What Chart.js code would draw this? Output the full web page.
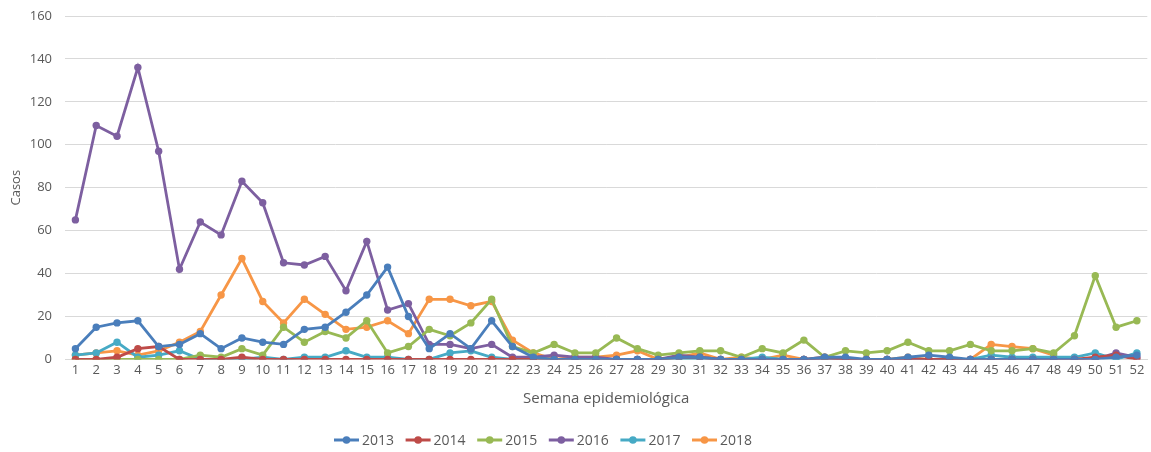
<!DOCTYPE html>
<html>
<head>
<meta charset="utf-8">
<script src="https://cdn.jsdelivr.net/npm/chart.js@4"></script>
<style>
html,body{margin:0;padding:0;background:#fff;}
#wrap{width:1151px;height:452px;}
</style>
</head>
<body>
<div id="wrap"><canvas id="c" width="1151" height="452"></canvas></div>
<script>
const weeks = Array.from({length:52},(_,i)=>String(i+1));
const seriesNames = ['2013','2014','2015','2016','2017','2018'];
const colors = ['#4a7ebb','#be4b48','#98b954','#7d5fa0','#46aac5','#f79646'];
const yTicks = [0,20,40,60,80,100,120,140,160];

const s2013 = [5,15,17,18,6,7,12,5,10,8,7,14,15,22,30,43,20,5,12,5,18,6,1,0,0,0,0,0,0,1,1,0,0,0,0,0,1,1,0,0,1,2,1,0,0,0,0,0,0,0,1,2];
const s2014 = [0,0,1,5,6,0,0,0,1,0,0,0,0,0,0,0,0,0,0,0,0,0,0,0,0,0,0,0,0,1,1,0,0,0,0,0,1,0,0,0,0,0,0,0,0,0,0,0,0,1,2,0];
const s2015 = [0,0,0,0,0,0,2,1,5,2,15,8,13,10,18,3,6,14,11,17,28,6,3,7,3,3,10,5,2,3,4,4,1,5,3,9,1,4,3,4,8,4,4,7,4,4,5,3,11,39,15,18];
const s2016 = [65,109,104,136,97,42,64,58,83,73,45,44,48,32,55,23,26,7,7,5,7,1,1,2,1,1,0,0,0,2,1,0,0,0,0,0,0,0,0,0,0,0,0,0,0,0,0,0,0,0,3,1];
const s2017 = [2,3,8,1,2,4,0,0,0,1,0,1,1,4,1,1,0,0,3,4,1,0,0,0,0,0,0,0,0,0,0,0,0,1,0,0,0,0,0,0,0,0,0,0,2,1,1,1,1,3,0,3];
const s2018 = [2,3,4,2,4,8,13,30,47,27,17,28,21,14,15,18,12,28,28,25,27,9,3,0,1,1,2,4,0,1,3,0,1,0,2,0,0,0,0,0,1,0,0,0,7,6,5,2,null,null,null,null];
const allSeries = [s2013,s2014,s2015,s2016,s2017,s2018];

const FONT = "'Open Sans', 'Noto Sans', sans-serif";
const TXT = '#595959';

const datasets = seriesNames.map((n,i)=>({
  label: n,
  data: allSeries[i],
  borderColor: colors[i],
  backgroundColor: colors[i],
  borderWidth: 2.8,
  pointRadius: 3.7,
  pointHoverRadius: 3.7,
  pointBackgroundColor: colors[i],
  pointBorderWidth: 0,
  tension: 0,
  spanGaps: false,
  fill: false
}));

const legendPlugin = {
  id: 'lineLegend',
  afterDraw(chart){
    const ctx = chart.ctx;
    const y = 440, startX = 334, step = 71.6;
    ctx.save();
    ctx.font = "14px " + FONT;
    ctx.textBaseline = 'middle';
    ctx.textAlign = 'left';
    chart.data.datasets.forEach((d,i)=>{
      const x0 = startX + i*step;
      ctx.strokeStyle = d.borderColor;
      ctx.lineWidth = 3;
      ctx.beginPath(); ctx.moveTo(x0, y); ctx.lineTo(x0+25, y); ctx.stroke();
      ctx.fillStyle = d.borderColor;
      ctx.beginPath(); ctx.arc(x0+12.5, y, 3.8, 0, Math.PI*2); ctx.fill();
      ctx.fillStyle = TXT;
      ctx.fillText(d.label, x0+28, y+1);
    });
    ctx.restore();
  }
};

new Chart(document.getElementById('c'), {
  type: 'line',
  data: { labels: weeks, datasets: datasets },
  plugins: [legendPlugin],
  options: {
    responsive: false,
    animation: false,
    layout: { padding: { top: 16, right: 0, left: 4, bottom: 0 } },
    plugins: {
      tooltip: { enabled: false },
      legend: { display: false }
    },
    scales: {
      x: {
        type: 'category',
        offset: true,
        grid: { display: false, drawTicks: false },
        border: { display: true, color: '#d9d9d9', width: 1 },
        ticks: { color: TXT, font: { family: FONT, size: 13 }, maxRotation: 0, autoSkip: false, padding: 3 },
        title: { display: true, text: 'Semana epidemiológica', color: TXT, font: { family: FONT, size: 15 }, padding: { top: 9, bottom: 44 } }
      },
      y: {
        min: 0, max: 160,
        afterBuildTicks(axis){ axis.ticks = yTicks.map(v=>({value:v})); },
        afterFit(axis){ axis.width = 61; axis.paddingTop = 0; axis.paddingBottom = 0; },
        grid: { color: '#d9d9d9', lineWidth: 1, drawTicks: false },
        border: { display: false },
        ticks: { color: TXT, font: { family: FONT, size: 13 }, padding: 13 },
        title: { display: true, text: 'Casos', color: TXT, font: { family: FONT, size: 13 }, padding: { top: 4, bottom: 0 } }
      }
    }
  }
});
</script>
</body>
</html>
